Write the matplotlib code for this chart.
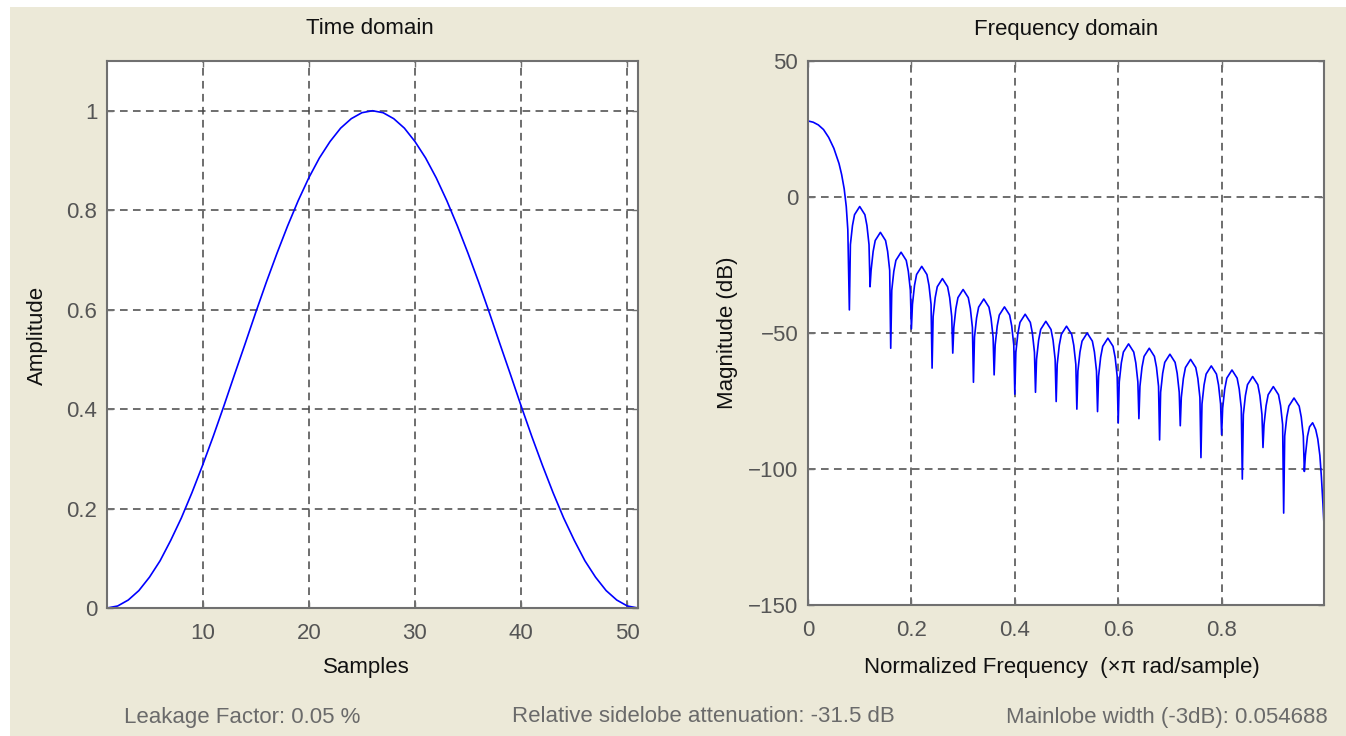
import matplotlib
matplotlib.use("Agg")
import matplotlib.pyplot as plt
from matplotlib.patches import Rectangle

plt.rcParams['font.family'] = ['Liberation Sans', 'DejaVu Sans']

# ---------------- data ----------------
samples = list(range(1, 52))
amplitude = [0, 0.004, 0.016, 0.035, 0.062, 0.095, 0.136, 0.181, 0.232, 0.287,
             0.345, 0.406, 0.469, 0.531, 0.594, 0.655, 0.713, 0.768, 0.819, 0.865,
             0.905, 0.938, 0.965, 0.984, 0.996, 1.0, 0.996, 0.984, 0.965, 0.938,
             0.905, 0.865, 0.819, 0.768, 0.713, 0.655, 0.594, 0.531, 0.469, 0.406,
             0.345, 0.287, 0.232, 0.181, 0.136, 0.095, 0.062, 0.035, 0.016, 0.004, 0]

freq_norm = [
    0.000, 0.010, 0.020, 0.030, 0.040, 0.050, 0.060, 0.065, 0.070, 0.074, 0.077, 0.080,
    0.082, 0.086, 0.090, 0.100, 0.110, 0.114, 0.118, 0.120,
    0.122, 0.126, 0.130, 0.140, 0.150, 0.154, 0.158, 0.160,
    0.162, 0.166, 0.170, 0.180, 0.190, 0.194, 0.198, 0.200,
    0.202, 0.206, 0.210, 0.220, 0.230, 0.234, 0.238, 0.240,
    0.242, 0.246, 0.250, 0.260, 0.270, 0.274, 0.278, 0.280,
    0.282, 0.286, 0.290, 0.300, 0.310, 0.314, 0.318, 0.320,
    0.322, 0.326, 0.330, 0.340, 0.350, 0.354, 0.358, 0.360,
    0.362, 0.366, 0.370, 0.380, 0.390, 0.394, 0.398, 0.400,
    0.402, 0.406, 0.410, 0.420, 0.430, 0.434, 0.438, 0.440,
    0.442, 0.446, 0.450, 0.460, 0.470, 0.474, 0.478, 0.480,
    0.482, 0.486, 0.490, 0.500, 0.510, 0.514, 0.518, 0.520,
    0.522, 0.526, 0.530, 0.540, 0.550, 0.554, 0.558, 0.560,
    0.562, 0.566, 0.570, 0.580, 0.590, 0.594, 0.598, 0.600,
    0.602, 0.606, 0.610, 0.620, 0.630, 0.634, 0.638, 0.640,
    0.642, 0.646, 0.650, 0.660, 0.670, 0.674, 0.678, 0.680,
    0.682, 0.686, 0.690, 0.700, 0.710, 0.714, 0.718, 0.720,
    0.722, 0.726, 0.730, 0.740, 0.750, 0.754, 0.758, 0.760,
    0.762, 0.766, 0.770, 0.780, 0.790, 0.794, 0.798, 0.800,
    0.802, 0.806, 0.810, 0.820, 0.830, 0.834, 0.838, 0.840,
    0.842, 0.846, 0.850, 0.860, 0.870, 0.874, 0.878, 0.880,
    0.882, 0.886, 0.890, 0.900, 0.910, 0.914, 0.918, 0.920,
    0.922, 0.926, 0.930, 0.940, 0.950, 0.954, 0.958, 0.960,
    0.962, 0.966, 0.970, 0.976, 0.982, 0.986, 0.990, 0.993, 0.996, 0.998,
]
magnitude_db = [
    27.96, 27.5, 26.5, 24.8, 21.9, 17.9, 12.3, 8.3, 3.0, -3.5, -12.0, -41.5,
    -17.5, -10.5, -6.5, -3.5, -6.5, -10.5, -17.5, -33.0,
    -27.0, -20.0, -16.0, -13.0, -16.0, -20.0, -27.0, -55.6,
    -34.3, -27.3, -23.3, -20.3, -23.3, -27.3, -34.3, -48.5,
    -39.5, -32.5, -28.5, -25.5, -28.5, -32.5, -39.5, -62.9,
    -44.0, -37.0, -33.0, -30.0, -33.0, -37.0, -44.0, -57.4,
    -48.0, -41.0, -37.0, -34.0, -37.0, -41.0, -48.0, -68.1,
    -51.5, -44.5, -40.5, -37.5, -40.5, -44.5, -51.5, -65.4,
    -54.4, -47.4, -43.4, -40.4, -43.4, -47.4, -54.4, -72.5,
    -57.1, -50.1, -46.1, -43.1, -46.1, -50.1, -57.1, -71.8,
    -59.7, -52.7, -48.7, -45.7, -48.7, -52.7, -59.7, -75.2,
    -61.5, -54.5, -50.5, -47.5, -50.5, -54.5, -61.5, -78.0,
    -64.0, -57.0, -53.0, -50.0, -53.0, -57.0, -64.0, -78.9,
    -65.9, -58.9, -54.9, -51.9, -54.9, -58.9, -65.9, -83.1,
    -68.0, -61.0, -57.0, -54.0, -57.0, -61.0, -68.0, -81.5,
    -69.6, -62.6, -58.6, -55.6, -58.6, -62.6, -69.6, -89.3,
    -71.8, -64.8, -60.8, -57.8, -60.8, -64.8, -71.8, -84.1,
    -73.7, -66.7, -62.7, -59.7, -62.7, -66.7, -73.7, -95.8,
    -76.1, -69.1, -65.1, -62.1, -65.1, -69.1, -76.1, -87.4,
    -77.6, -70.6, -66.6, -63.6, -66.6, -70.6, -77.6, -103.7,
    -80.0, -73.0, -69.0, -66.0, -69.0, -73.0, -80.0, -92.1,
    -83.7, -76.7, -72.7, -69.7, -72.7, -76.7, -83.7, -116.2,
    -87.9, -80.9, -76.9, -73.9, -76.9, -80.9, -87.9, -100.9,
    -95.0, -88.0, -84.5, -83.0, -85.5, -89.0, -95.0, -103.0, -113.0, -120.5,
]

time_xticks = [10, 20, 30, 40, 50]
time_yticks = [0, 0.2, 0.4, 0.6, 0.8, 1]
time_yticklabels = ['0', '0.2', '0.4', '0.6', '0.8', '1']
freq_xticks = [0, 0.2, 0.4, 0.6, 0.8]
freq_xticklabels = ['0', '0.2', '0.4', '0.6', '0.8']
freq_yticks = [-150, -100, -50, 0, 50]

footer_texts = ['Leakage Factor: 0.05 %',
                'Relative sidelobe attenuation: -31.5 dB',
                'Mainlobe width (-3dB): 0.054688']

# ---------------- style ----------------
W, H = 1346, 736
BEIGE = '#ECE9D8'
LINE = '#0000FF'
GRID = '#474747'
SPINE = '#707070'
TICKTXT = '#555555'
FOOT = '#6A6A6A'
FS = 16

fig = plt.figure(figsize=(W / 100, H / 100), dpi=100, facecolor='white')
fig.patches.append(Rectangle((10 / W, 0), 1, 1 - 7 / H, transform=fig.transFigure,
                             facecolor=BEIGE, edgecolor='none', zorder=-10))


def px_axes(x0, y0, x1, y1):
    return fig.add_axes([x0 / W, 1 - y1 / H, (x1 - x0) / W, (y1 - y0) / H])


def style(ax):
    ax.set_facecolor('white')
    for s in ax.spines.values():
        s.set_color(SPINE)
        s.set_linewidth(1.5)
    ax.grid(True, color=GRID, linestyle=(0, (5, 3.5)), linewidth=1.1)
    ax.set_axisbelow(True)
    ax.tick_params(direction='in', length=4, width=1, color=SPINE,
                   top=True, right=True, labelsize=FS, labelcolor=TICKTXT)
    ax.tick_params(axis='x', pad=11)
    ax.tick_params(axis='y', pad=7)


ax1 = px_axes(107, 61, 638, 608)
ax1.plot(samples, amplitude, color=LINE, linewidth=1.2, clip_on=False)
ax1.set_xlim(1, 51)
ax1.set_ylim(0, 1.1)
ax1.set_xticks(time_xticks)
ax1.set_yticks(time_yticks)
ax1.set_yticklabels(time_yticklabels)
style(ax1)

ax2 = px_axes(808, 61, 1324, 605)
ax2.plot(freq_norm, magnitude_db, color=LINE, linewidth=1.2)
ax2.set_xlim(0, 0.998)
ax2.set_ylim(-150, 50)
ax2.set_xticks(freq_xticks)
ax2.set_xticklabels(freq_xticklabels)
ax2.set_yticks(freq_yticks)
style(ax2)


def ftext(x, y, s, **kw):
    fig.text(x / W, 1 - y / H, s, **kw)


ftext(370, 29, 'Time domain', ha='center', va='center', fontsize=FS, color='#111111')
ftext(1066, 29, 'Frequency domain', ha='center', va='center', fontsize=FS, color='#111111')
ftext(366, 668, 'Samples', ha='center', va='center', fontsize=FS, color='#111111')
ftext(1062, 668, 'Normalized Frequency  (\u00d7\u03c0 rad/sample)', ha='center',
      va='center', fontsize=FS, color='#111111')
ftext(37, 335, 'Amplitude', ha='center', va='center', rotation=90, fontsize=FS,
      color='#111111')
ftext(727, 333, 'Magnitude (dB)', ha='center', va='center', rotation=90, fontsize=FS,
      color='#111111')

ftext(242, 717, footer_texts[0], ha='center', va='center', fontsize=FS, color=FOOT)
ftext(703, 717, footer_texts[1], ha='center', va='center', fontsize=FS, color=FOOT)
ftext(1328, 717, footer_texts[2], ha='right', va='center', fontsize=FS, color=FOOT)

fig.savefig('out.png', dpi=100, facecolor=fig.get_facecolor())
